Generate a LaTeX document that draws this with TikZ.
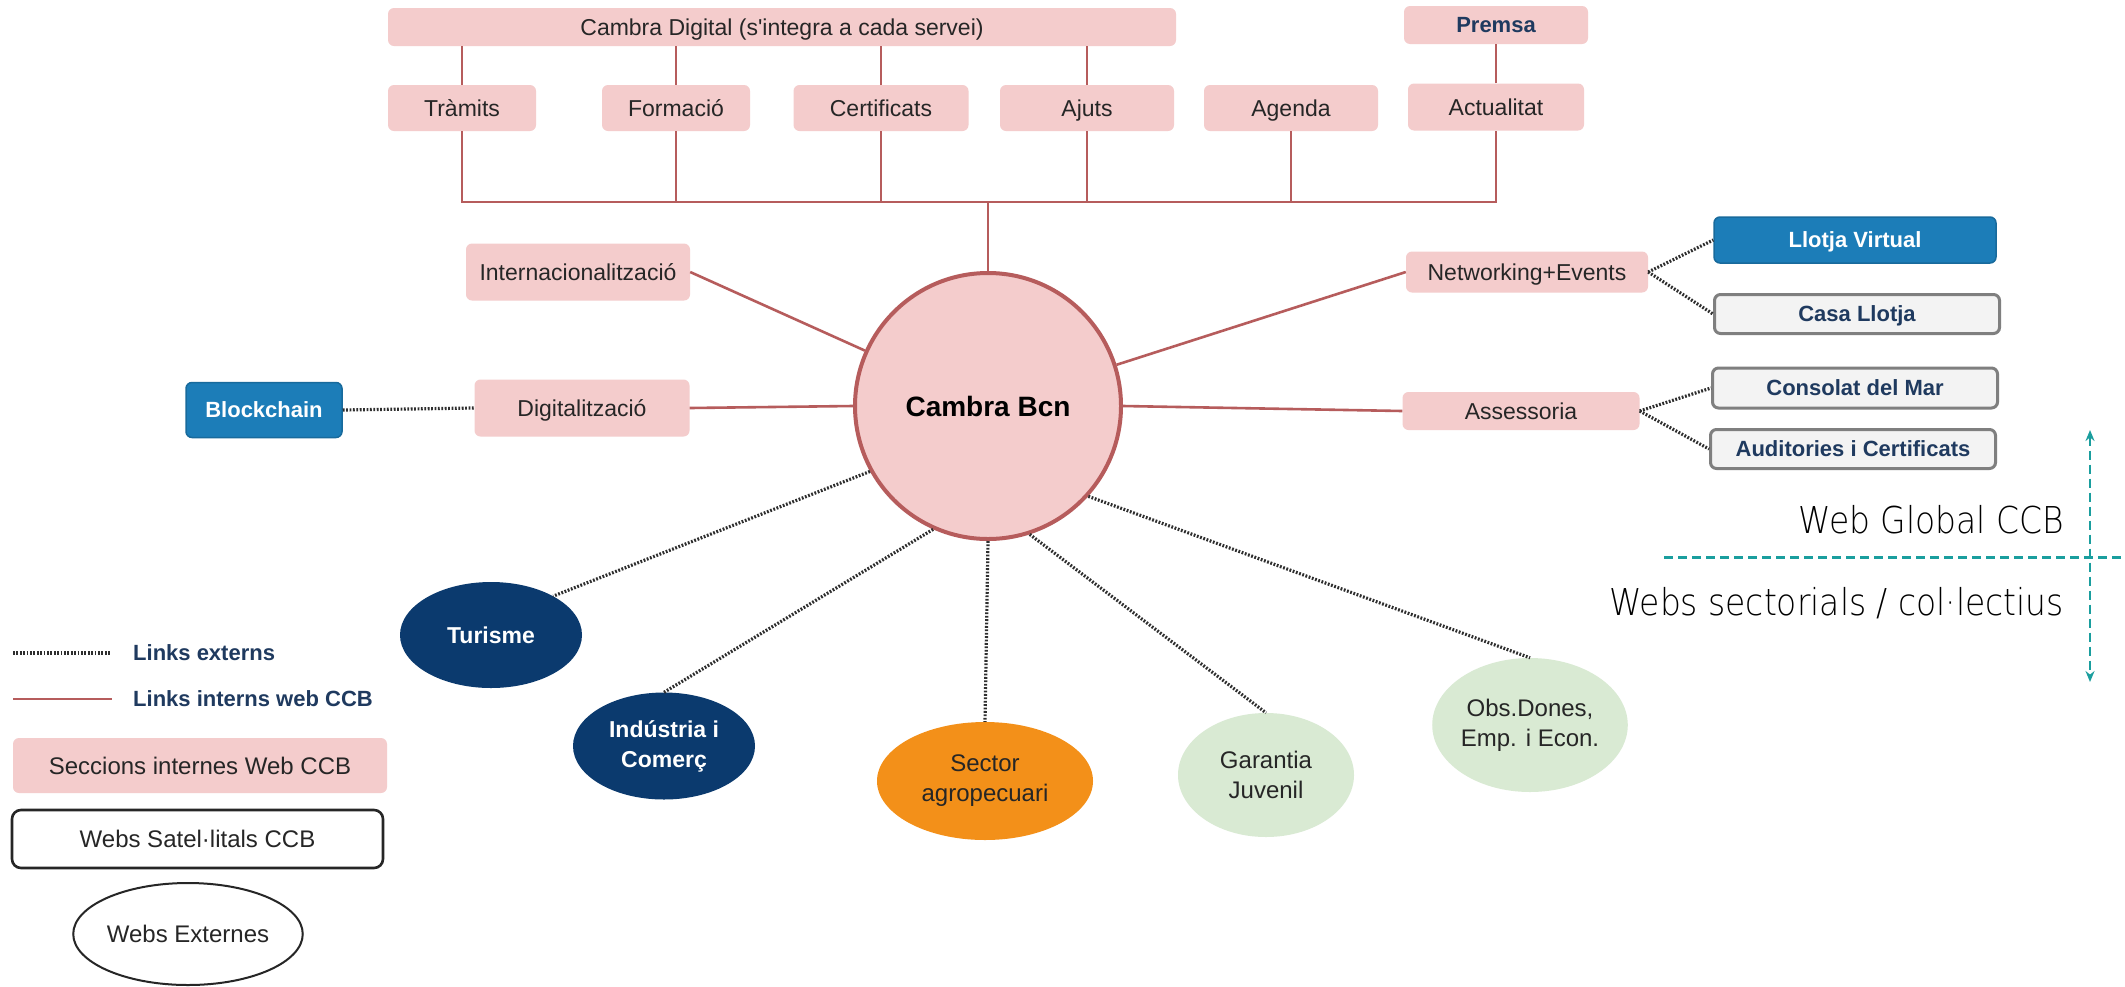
\documentclass[tikz,border=0pt]{standalone}
\usepackage{fontspec}
\setmainfont{Liberation Sans}
\newfontfamily\nomapfont{Liberation Sans}
\IfFontExistsTF{DejaVu Sans ExtraLight}
  {\newfontfamily\thinfont[FakeStretch=0.89]{DejaVu Sans ExtraLight}}
  {\newfontfamily\thinfont[FakeStretch=0.8]{Liberation Sans}}
\usetikzlibrary{shapes.geometric,arrows.meta}
\definecolor{pinkc}{HTML}{F4CCCC}
\definecolor{linec}{HTML}{B65C5C}
\definecolor{dotc}{HTML}{2E2E2E}
\definecolor{bluebox}{HTML}{1C7DB8}
\definecolor{navy}{HTML}{0B3A6E}
\definecolor{orangec}{HTML}{F39019}
\definecolor{greenc}{HTML}{D9EAD3}
\definecolor{lgray}{HTML}{F3F3F3}
\definecolor{grayb}{HTML}{7F7F7F}
\definecolor{navytext}{HTML}{1F3A5F}
\definecolor{tealc}{HTML}{1A9E9E}
\definecolor{txt}{HTML}{262626}
\tikzset{
  o22/.style={text height=20.8pt, text depth=5pt},
  o23/.style={text height=21.4pt, text depth=5pt},
  o24/.style={text height=22.2pt, text depth=5pt},
  pinkbox/.style={rectangle, rounded corners=6pt, fill=pinkc, draw=none, inner sep=0pt, o23,
    text=txt, font=\fontsize{23}{28}\selectfont},
  bluebx/.style={rectangle, rounded corners=6pt, fill=bluebox, draw=bluebox!85!black, line width=1.5pt,
    inner sep=0pt, o22, text=white, font=\bfseries\fontsize{22}{27}\selectfont},
  graybx/.style={rectangle, rounded corners=6pt, fill=lgray, draw=grayb, line width=3pt,
    inner sep=0pt, o22, text=navytext, font=\bfseries\fontsize{22}{27}\selectfont},
  ell/.style={ellipse, inner sep=0pt, align=center, draw=none},
  intlink/.style={draw=linec, line width=2.6pt},
  extlink/.style={draw=dotc, line width=3.2pt, dash pattern=on 1.8pt off 1.6pt},
}
\begin{document}
\begin{tikzpicture}[x=1pt,y=-1pt]
\useasboundingbox (0,0) rectangle (2125,986);
\fill[white] (0,0) rectangle (2125,986);

% top boxes
\node[pinkbox, minimum width=788pt, minimum height=38pt] (cd) at (782,27) {Cambra Digital (s{\nomapfont'}integra a cada servei)};
\node[pinkbox, minimum width=184pt, minimum height=38pt, o22, text=navytext, font=\bfseries\fontsize{22}{27}\selectfont] (premsa) at (1496,25) {Premsa};
\node[pinkbox, minimum width=148pt, minimum height=46pt] (tramits) at (462,108) {Tràmits};
\node[pinkbox, minimum width=148pt, minimum height=46pt] (formacio) at (676,108) {Formació};
\node[pinkbox, minimum width=175pt, minimum height=46pt] (certif) at (881,108) {Certificats};
\node[pinkbox, minimum width=174pt, minimum height=46pt] (ajuts) at (1087,108) {Ajuts};
\node[pinkbox, minimum width=174pt, minimum height=46pt] (agenda) at (1291,108) {Agenda};
\node[pinkbox, minimum width=176pt, minimum height=47pt] (actual) at (1496,107) {Actualitat};

% central circle
\node[circle, minimum size=266pt, fill=pinkc, draw=linec, line width=4pt, inner sep=0pt,
  text=black, font=\bfseries\fontsize{28}{34}\selectfont] (cbcn) at (988,406) {Cambra Bcn};

% side boxes
\node[pinkbox, minimum width=224pt, minimum height=57pt] (intern) at (578,272) {Internacionalització};
\node[pinkbox, minimum width=215pt, minimum height=57pt] (digit) at (582,408) {Digitalització};
\node[bluebx, minimum width=156pt, minimum height=55pt] (block) at (264,410) {Blockchain};
\node[pinkbox, minimum width=242pt, minimum height=41pt] (netw) at (1527,272) {Networking+Events};
\node[pinkbox, minimum width=237pt, minimum height=38pt] (assess) at (1521,411) {Assessoria};
\node[bluebx, minimum width=282pt, minimum height=46pt] (llotja) at (1855,240) {Llotja Virtual};
\node[graybx, minimum width=285pt, minimum height=39pt] (casa) at (1857,314) {Casa Llotja};
\node[graybx, minimum width=285pt, minimum height=40pt] (consolat) at (1855,388) {Consolat del Mar};
\node[graybx, minimum width=285pt, minimum height=39pt] (audit) at (1853,449) {Auditories i Certificats};

% bottom ellipses
\node[ell, fill=navy, text=white, font=\bfseries\fontsize{23}{29}\selectfont,
  minimum width=182pt, minimum height=106pt] (tur) at (491,635) {Turisme};
\node[ell, fill=navy, text=white, font=\bfseries\fontsize{23}{30}\selectfont,
  minimum width=182pt, minimum height=107pt] (ind) at (664,746) {Indústria i\\Comerç};
\node[ell, fill=orangec, text=txt, font=\fontsize{24}{30}\selectfont,
  minimum width=216pt, minimum height=118pt] (sect) at (985,781) {Sector\\agropecuari};
\node[ell, fill=greenc, text=txt, font=\fontsize{24}{30}\selectfont,
  minimum width=176pt, minimum height=124pt] (gar) at (1266,775) {Garantia\\Juvenil};
\node[ell, fill=greenc, text=txt, font=\fontsize{24}{30}\selectfont,
  minimum width=190pt, minimum height=134pt] (obs) at (1530,725) {Obs.Dones,\\Emp. i Econ.};

% top tree connectors
\coordinate (bus) at (988,202);
\draw[intlink] (tramits.north) -- (tramits.north |- cd.south);
\draw[intlink] (formacio.north) -- (formacio.north |- cd.south);
\draw[intlink] (certif.north) -- (certif.north |- cd.south);
\draw[intlink] (ajuts.north) -- (ajuts.north |- cd.south);
\draw[intlink] (actual.north) -- (premsa.south);
\draw[intlink] (tramits.south) -- (tramits.south |- bus) -- (actual.south |- bus) -- (actual.south);
\draw[intlink] (formacio.south) -- (formacio.south |- bus);
\draw[intlink] (certif.south) -- (certif.south |- bus);
\draw[intlink] (ajuts.south) -- (ajuts.south |- bus);
\draw[intlink] (agenda.south) -- (agenda.south |- bus);
\draw[intlink] (bus) -- (cbcn.north);

% side connectors
\draw[intlink] (intern.east) -- (cbcn);
\draw[intlink] (digit.east) -- (cbcn.west);
\draw[intlink] (netw.west) -- (cbcn);
\draw[intlink] (assess.west) -- (cbcn.east);
\draw[extlink] (block.east) -- (digit.west);
\draw[extlink] (netw.east) -- (llotja.west);
\draw[extlink] (netw.east) -- (casa.west);
\draw[extlink] (assess.east) -- (consolat.west);
\draw[extlink] (assess.east) -- (audit.west);

% bottom connectors
\draw[extlink] (cbcn.209) -- (tur.32);
\draw[extlink] (cbcn.246) -- (ind.north);
\draw[extlink] (cbcn.south) -- (sect.north);
\draw[extlink] (cbcn.288) -- (gar.north);
\draw[extlink] (cbcn.318) -- (obs.north);

% legend
\coordinate (la1) at (13,653); \coordinate (la2) at (110,653);
\coordinate (lb1) at (13,699); \coordinate (lb2) at (112,699);
\draw[extlink] (la1) -- (la2);
\draw[intlink] (lb1) -- (lb2);
\node[anchor=west, inner sep=0pt, o22, text=navytext, font=\bfseries\fontsize{22}{27}\selectfont] (lext) at (133,653) {Links externs};
\node[anchor=west, inner sep=0pt, o22, text=navytext, font=\bfseries\fontsize{22}{27}\selectfont] (lint) at (133,699) {Links interns web CCB};
\node[pinkbox, minimum width=374pt, minimum height=55pt, o24, font=\fontsize{24}{29}\selectfont] (lsec) at (200,765.5) {Seccions internes Web CCB};
\node[rectangle, rounded corners=9pt, draw=black!85, line width=2.6pt, fill=white, inner sep=0pt, o24,
  minimum width=371pt, minimum height=58pt, text=txt, font=\fontsize{24}{29}\selectfont] (lsat) at (197.5,839) {Webs Satel·litals CCB};
\node[ellipse, draw=black!85, line width=2pt, inner sep=0pt, o24, minimum width=216pt, minimum height=102pt,
  text=txt, font=\fontsize{24}{29}\selectfont] (lweb) at (188,934) {Webs Externes};

% right-hand zone labels
\node[anchor=base east, inner sep=0pt, font=\thinfont\fontsize{37}{44}\selectfont] (wglob) at (2064,533) {Web Global CCB};
\node[anchor=base east, inner sep=0pt, font=\thinfont\fontsize{37}{44}\selectfont] (wsec) at (2064,615) {Webs sectorials / col·lectius};
\coordinate (h1) at (1664,557); \coordinate (h2) at (2125,557);
\coordinate (v1) at (2090,430); \coordinate (v2) at (2090,682);
\draw[tealc, line width=3pt, dash pattern=on 9pt off 5pt] (h1) -- (h2);
\draw[tealc, line width=2.6pt, dash pattern=on 9pt off 5pt, {Stealth[length=11pt,width=9pt]}-{Stealth[length=11pt,width=9pt]}] (v1) -- (v2);
\end{tikzpicture}
\end{document}
